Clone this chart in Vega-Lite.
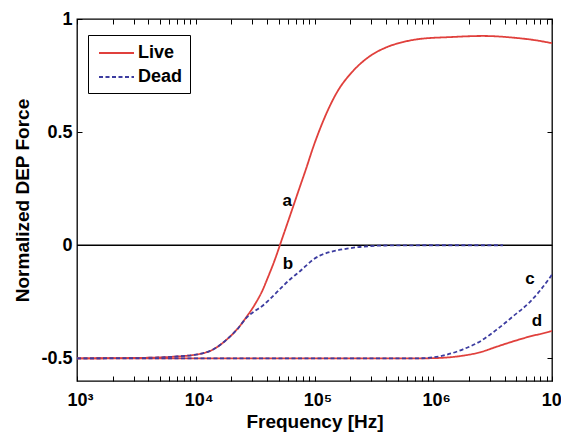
{
  "$schema": "https://vega.github.io/schema/vega-lite/v6.json",
  "width": 475,
  "height": 362,
  "autosize": "none",
  "padding": {"left": 77, "top": 19, "right": 9, "bottom": 54},
  "background": "white",
  "config": {
    "view": {"stroke": "black", "strokeWidth": 1.3},
    "font": "Liberation Sans",
    "axis": {"grid": false, "domain": false, "tickColor": "black", "labelColor": "black", "titleColor": "black", "labelFontWeight": "bold", "titleFontWeight": "bold"}
  },
  "datasets": {
    "curves": [
      {"curve": "a", "type": "Live", "f": 1000, "v": -0.5},
      {"curve": "a", "type": "Live", "f": 2000, "v": -0.499},
      {"curve": "a", "type": "Live", "f": 4120, "v": -0.497},
      {"curve": "a", "type": "Live", "f": 6310, "v": -0.493},
      {"curve": "a", "type": "Live", "f": 10900, "v": -0.48},
      {"curve": "a", "type": "Live", "f": 14100, "v": -0.46},
      {"curve": "a", "type": "Live", "f": 18300, "v": -0.416},
      {"curve": "a", "type": "Live", "f": 22400, "v": -0.37},
      {"curve": "a", "type": "Live", "f": 27000, "v": -0.314},
      {"curve": "a", "type": "Live", "f": 31600, "v": -0.26},
      {"curve": "a", "type": "Live", "f": 36800, "v": -0.195},
      {"curve": "a", "type": "Live", "f": 39800, "v": -0.152},
      {"curve": "a", "type": "Live", "f": 46500, "v": -0.062},
      {"curve": "a", "type": "Live", "f": 53200, "v": 0.027},
      {"curve": "a", "type": "Live", "f": 63100, "v": 0.14},
      {"curve": "a", "type": "Live", "f": 75500, "v": 0.26},
      {"curve": "a", "type": "Live", "f": 84700, "v": 0.336},
      {"curve": "a", "type": "Live", "f": 97000, "v": 0.43},
      {"curve": "a", "type": "Live", "f": 111000, "v": 0.513},
      {"curve": "a", "type": "Live", "f": 155000, "v": 0.677},
      {"curve": "a", "type": "Live", "f": 211000, "v": 0.77},
      {"curve": "a", "type": "Live", "f": 293000, "v": 0.836},
      {"curve": "a", "type": "Live", "f": 408000, "v": 0.876},
      {"curve": "a", "type": "Live", "f": 556000, "v": 0.898},
      {"curve": "a", "type": "Live", "f": 773000, "v": 0.912},
      {"curve": "a", "type": "Live", "f": 1380000, "v": 0.92},
      {"curve": "a", "type": "Live", "f": 2620000, "v": 0.925},
      {"curve": "a", "type": "Live", "f": 5070000, "v": 0.916},
      {"curve": "a", "type": "Live", "f": 7080000, "v": 0.907},
      {"curve": "a", "type": "Live", "f": 10000000, "v": 0.893},

      {"curve": "b", "type": "Dead", "f": 1000, "v": -0.5},
      {"curve": "b", "type": "Dead", "f": 2000, "v": -0.499},
      {"curve": "b", "type": "Dead", "f": 4120, "v": -0.497},
      {"curve": "b", "type": "Dead", "f": 6310, "v": -0.493},
      {"curve": "b", "type": "Dead", "f": 10900, "v": -0.48},
      {"curve": "b", "type": "Dead", "f": 14100, "v": -0.46},
      {"curve": "b", "type": "Dead", "f": 18300, "v": -0.416},
      {"curve": "b", "type": "Dead", "f": 22400, "v": -0.371},
      {"curve": "b", "type": "Dead", "f": 27000, "v": -0.318},
      {"curve": "b", "type": "Dead", "f": 31600, "v": -0.29},
      {"curve": "b", "type": "Dead", "f": 36800, "v": -0.266},
      {"curve": "b", "type": "Dead", "f": 39800, "v": -0.25},
      {"curve": "b", "type": "Dead", "f": 46500, "v": -0.216},
      {"curve": "b", "type": "Dead", "f": 54300, "v": -0.18},
      {"curve": "b", "type": "Dead", "f": 63100, "v": -0.148},
      {"curve": "b", "type": "Dead", "f": 75500, "v": -0.115},
      {"curve": "b", "type": "Dead", "f": 85100, "v": -0.09},
      {"curve": "b", "type": "Dead", "f": 97000, "v": -0.064},
      {"curve": "b", "type": "Dead", "f": 112000, "v": -0.045},
      {"curve": "b", "type": "Dead", "f": 135000, "v": -0.03},
      {"curve": "b", "type": "Dead", "f": 158000, "v": -0.022},
      {"curve": "b", "type": "Dead", "f": 188000, "v": -0.015},
      {"curve": "b", "type": "Dead", "f": 234000, "v": -0.008},
      {"curve": "b", "type": "Dead", "f": 288000, "v": -0.004},
      {"curve": "b", "type": "Dead", "f": 398000, "v": -0.001},
      {"curve": "b", "type": "Dead", "f": 1000000, "v": 0},
      {"curve": "b", "type": "Dead", "f": 3860000, "v": 0},

      {"curve": "d", "type": "Live", "f": 1000, "v": -0.5},
      {"curve": "d", "type": "Live", "f": 700000, "v": -0.5},
      {"curve": "d", "type": "Live", "f": 1000000, "v": -0.499},
      {"curve": "d", "type": "Live", "f": 1310000, "v": -0.496},
      {"curve": "d", "type": "Live", "f": 1780000, "v": -0.488},
      {"curve": "d", "type": "Live", "f": 2480000, "v": -0.473},
      {"curve": "d", "type": "Live", "f": 3440000, "v": -0.448},
      {"curve": "d", "type": "Live", "f": 4700000, "v": -0.425},
      {"curve": "d", "type": "Live", "f": 6530000, "v": -0.403},
      {"curve": "d", "type": "Live", "f": 9620000, "v": -0.381},
      {"curve": "d", "type": "Live", "f": 10000000, "v": -0.378},

      {"curve": "c", "type": "Dead", "f": 1000, "v": -0.5},
      {"curve": "c", "type": "Dead", "f": 700000, "v": -0.5},
      {"curve": "c", "type": "Dead", "f": 940000, "v": -0.497},
      {"curve": "c", "type": "Dead", "f": 1310000, "v": -0.483},
      {"curve": "c", "type": "Dead", "f": 1780000, "v": -0.46},
      {"curve": "c", "type": "Dead", "f": 2480000, "v": -0.425},
      {"curve": "c", "type": "Dead", "f": 3440000, "v": -0.372},
      {"curve": "c", "type": "Dead", "f": 4700000, "v": -0.314},
      {"curve": "c", "type": "Dead", "f": 6530000, "v": -0.25},
      {"curve": "c", "type": "Dead", "f": 7940000, "v": -0.2},
      {"curve": "c", "type": "Dead", "f": 10000000, "v": -0.13}
    ],
    "labels": [
      {"label": "a", "f": 58900, "v": 0.195},
      {"label": "b", "f": 59800, "v": -0.084},
      {"label": "c", "f": 6530000, "v": -0.15},
      {"label": "d", "f": 7480000, "v": -0.336}
    ]
  },
  "layer": [
    {
      "data": {"values": [{"v": 0, "f0": 1000, "f1": 10000000}]},
      "mark": {"type": "rule", "color": "black", "strokeWidth": 1.5},
      "encoding": {
        "x": {
          "field": "f0", "type": "quantitative",
          "scale": {"type": "log", "domain": [1000, 10000000]},
          "axis": {
            "orient": "top",
            "values": [1000, 2000, 3000, 4000, 5000, 6000, 7000, 8000, 9000, 10000, 20000, 30000, 40000, 50000, 60000, 70000, 80000, 90000, 100000, 200000, 300000, 400000, 500000, 600000, 700000, 800000, 900000, 1000000, 2000000, 3000000, 4000000, 5000000, 6000000, 7000000, 8000000, 9000000, 10000000],
            "labels": false, "title": null, "tickSize": -5
          }
        },
        "x2": {"field": "f1"},
        "y": {
          "field": "v", "type": "quantitative",
          "scale": {"domain": [-0.6, 1]},
          "axis": {"orient": "right", "values": [-0.5, 0, 0.5, 1], "labels": false, "title": null, "tickSize": -5}
        }
      }
    },
    {
      "data": {"name": "curves"},
      "mark": {"type": "line", "interpolate": "monotone", "strokeWidth": 1.8, "clip": true},
      "encoding": {
        "x": {
          "field": "f", "type": "quantitative",
          "axis": {
            "orient": "bottom",
            "values": [1000, 2000, 3000, 4000, 5000, 6000, 7000, 8000, 9000, 10000, 20000, 30000, 40000, 50000, 60000, 70000, 80000, 90000, 100000, 200000, 300000, 400000, 500000, 600000, 700000, 800000, 900000, 1000000, 2000000, 3000000, 4000000, 5000000, 6000000, 7000000, 8000000, 9000000, 10000000],
            "labels": false, "title": null, "tickSize": -5
          }
        },
        "y": {
          "field": "v", "type": "quantitative",
          "axis": {"orient": "left", "values": [-0.5, 0, 0.5, 1], "labels": false, "title": null, "tickSize": -5}
        },
        "color": {
          "field": "type", "type": "nominal",
          "scale": {"domain": ["Live", "Dead"], "range": ["#e0403c", "#3c3ca0"]},
          "legend": {"title": null, "orient": "none", "legendX": 11, "legendY": 16, "fillColor": "white", "strokeColor": "black", "padding": 7, "symbolType": "M-0.7,0H2.8", "symbolSize": 400, "symbolStrokeWidth": 1.8, "labelFontSize": 18, "labelFontWeight": "bold", "labelColor": "black", "rowPadding": 4, "labelOffset": 21}
        },
        "strokeDash": {
          "field": "type", "type": "nominal",
          "scale": {"domain": ["Live", "Dead"], "range": [[1, 0], [4, 2.5]]},
          "legend": {"title": null, "orient": "none", "legendX": 11, "legendY": 16, "fillColor": "white", "strokeColor": "black", "padding": 7, "symbolType": "M-0.7,0H2.8", "symbolSize": 400, "symbolStrokeWidth": 1.8, "labelFontSize": 18, "labelFontWeight": "bold", "labelColor": "black", "rowPadding": 4, "labelOffset": 21}
        },
        "detail": {"field": "curve", "type": "nominal"}
      }
    },
    {
      "data": {"name": "labels"},
      "mark": {"type": "text", "fontSize": 17, "fontWeight": "bold", "color": "black"},
      "encoding": {
        "x": {
          "field": "f", "type": "quantitative",
          "axis": {
            "orient": "bottom",
            "values": [1000, 10000, 100000, 1000000, 10000000],
            "labelExpr": "datum.value == 1000 ? '10³' : datum.value == 10000 ? '10⁴' : datum.value == 100000 ? '10⁵' : datum.value == 1000000 ? '10⁶' : '10⁷'",
            "ticks": false,
            "labelPadding": 10,
            "labelOffset": 3,
            "labelFontSize": 18,
            "labelOverlap": false,
            "labelFlush": false,
            "title": "Frequency [Hz]",
            "titleFontSize": 19,
            "titlePadding": 3
          }
        },
        "y": {
          "field": "v", "type": "quantitative",
          "axis": {
            "orient": "left",
            "values": [-0.5, 0, 0.5, 1],
            "labelExpr": "datum.value == -0.5 ? '-0.5' : datum.value == 0 ? '0' : datum.value == 0.5 ? '0.5' : '1'",
            "ticks": false,
            "labelPadding": 5,
            "labelFontSize": 18,
            "title": "Normalized DEP Force",
            "titleFontSize": 19,
            "titlePadding": 8
          }
        },
        "text": {"field": "label"}
      }
    }
  ]
}
